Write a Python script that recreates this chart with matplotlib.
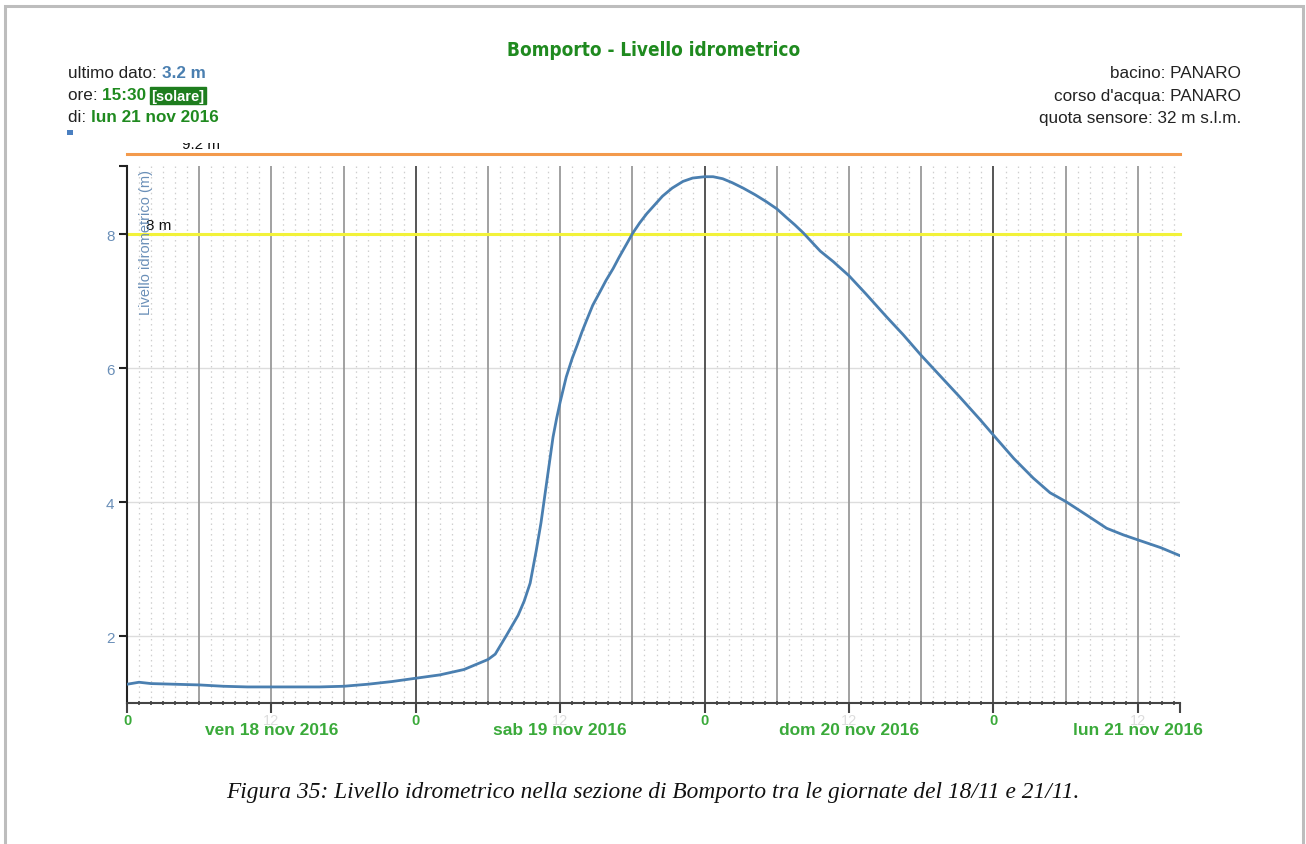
import matplotlib.pyplot as plt
from matplotlib.patches import Rectangle
from matplotlib.transforms import Bbox, TransformedBbox

# hours from 18 nov 2016 00:00 (solar time) and water level in metres
hours = [0, 1, 2, 4, 6, 8, 10, 12, 14, 16, 18, 20, 22, 24, 26, 28, 30, 30.6,
         31.5, 32.5, 33.0, 33.5, 34, 34.4, 34.9, 35.4, 35.7, 36, 36.5, 37.0,
         37.4, 37.8, 38.2, 38.7, 39.3, 39.8, 40.4, 40.9, 41.5, 42, 42.6, 43.2,
         43.9, 44.5, 45.3, 46.2, 47.0, 48, 48.7, 49.5, 50.3, 51.2, 52.2, 53.1,
         54.0, 54.8, 55.5, 56.2, 57.6, 58.7, 60, 61.4, 63.1, 64.5, 66, 67.6,
         69.2, 70.9, 72, 73.7, 75.3, 76.7, 78, 79.8, 81.4, 82.8, 84.1, 85.9, 87.5]
level = [1.28, 1.31, 1.29, 1.28, 1.27, 1.25, 1.24, 1.24, 1.24, 1.24, 1.25,
         1.28, 1.32, 1.37, 1.42, 1.50, 1.65, 1.73, 2.00, 2.31, 2.52, 2.79,
         3.27, 3.69, 4.33, 4.97, 5.25, 5.50, 5.87, 6.15, 6.34, 6.54, 6.72,
         6.94, 7.14, 7.31, 7.49, 7.66, 7.85, 8.01, 8.17, 8.31, 8.45, 8.57,
         8.69, 8.79, 8.84, 8.86, 8.86, 8.83, 8.77, 8.69, 8.59, 8.49, 8.38,
         8.25, 8.14, 8.02, 7.75, 7.59, 7.38, 7.11, 6.77, 6.50, 6.19, 5.88,
         5.57, 5.23, 5.00, 4.65, 4.36, 4.14, 4.01, 3.80, 3.61, 3.51, 3.43,
         3.32, 3.20]

day_labels = ["ven 18 nov 2016", "sab 19 nov 2016", "dom 20 nov 2016", "lun 21 nov 2016"]
thresholds = [8.0, 9.2]
threshold_labels = ["8 m", "9.2 m"]
threshold_colors = ["#f2f23a", "#f39a4c"]

GREEN = "#3aaa3a"
DARKGREEN = "#1f8a1f"
BLUE = "#4a7fb0"

plt.rcParams['font.family'] = ['Liberation Sans', 'DejaVu Sans']

fig = plt.figure(figsize=(13.06, 8.45), dpi=100)
ax = fig.add_axes([127 / 1306, 1 - 704 / 845, (1180 - 127) / 1306, (704 - 167) / 845])

x_end = hours[-1]
ax.set_xlim(0, x_end)
ax.set_ylim(1.0, 9.02)

# grid: hourly dotted, 6-hourly solid, midnight darker
for h in range(0, 88):
    if h % 24 == 0:
        ax.axvline(h, color="#555555", lw=1.4, zorder=1)
    elif h % 6 == 0:
        ax.axvline(h, color="#9a9a9a", lw=1.3, zorder=1)
    else:
        ax.axvline(h, color="#cfcfcf", lw=0.9, ls=(0, (1.2, 3)), zorder=0)
for yv in [2, 4, 6, 8]:
    ax.axhline(yv, color="#dddddd", lw=1.0, zorder=0)

# alert thresholds
for val, lab, col in zip(thresholds, threshold_labels, threshold_colors):
    ax.plot([0, x_end], [val, val], color=col, lw=2.2, zorder=2, clip_on=False)
t8 = ax.text(1.6, thresholds[0] + 0.03, threshold_labels[0], fontsize=11,
             color="#111111", va="bottom", ha="left")
t92 = ax.text(4.6, thresholds[1] + 0.04, threshold_labels[1], fontsize=11,
              color="#111111", va="bottom", ha="left")
t92.set_clip_box(TransformedBbox(Bbox([[0, 0], [1, 1 - 144 / 845]]), fig.transFigure))
t92.set_clip_on(True)

ax.plot(hours, level, color=BLUE, lw=2.0, zorder=3, solid_capstyle="round",
        solid_joinstyle="round")

# axes styling
for s in ["top", "right"]:
    ax.spines[s].set_visible(False)
ax.spines["left"].set_color("#222222")
ax.spines["left"].set_linewidth(1.5)
ax.spines["bottom"].set_color("#444444")
ax.spines["bottom"].set_linewidth(1.5)

ax.set_yticks([2, 4, 6, 8, 9.02])
ax.set_yticklabels(["2", "4", "6", "8", ""], color="#6a8fb8", fontsize=11)
ax.tick_params(axis="y", length=6, width=1.5, color="#222222", pad=3)

ax.set_xticks([0, 12, 24, 36, 48, 60, 72, 84, x_end])
ax.set_xticklabels(["0", "12", "0", "12", "0", "12", "0", "12", ""], fontsize=10.5)
for i, tl in enumerate(ax.get_xticklabels()):
    tl.set_color(GREEN if i % 2 == 0 else "#dddddd")
    if i % 2 == 0:
        tl.set_fontweight("bold")
ax.set_xticks(range(0, 88), minor=True)
ax.tick_params(axis="x", which="major", length=7, width=1.5, color="#444444", pad=0)
ax.tick_params(axis="x", which="minor", length=3, width=1.2, color="#444444",
               direction="inout")

for i, lab in enumerate(day_labels):
    ax.text(12 + 24 * i, -0.035, lab, transform=ax.get_xaxis_transform(),
            ha="center", va="top", fontsize=12.5, fontweight="bold", color=GREEN)

ax.text(0.011, 0.995, "Livello idrometrico (m)", transform=ax.transAxes,
        rotation=90, ha="left", va="top", fontsize=10.5, color="#6a8fb8")

# title
fig.text(654 / 1306, 1 - 50 / 845, "Bomporto - Livello idrometrico", ha="center",
         va="center", fontsize=13.6, color=DARKGREEN, fontfamily="DejaVu Sans",
         fontstretch="condensed", fontweight="bold")

# header info, left side
hs = 12.3
t = fig.text(68 / 1306, 1 - 74 / 845, "ultimo dato: ", fontsize=hs, va="center", color="#222222")
ax.annotate("3.2 m", xy=(1, 0), xycoords=t, va="bottom", fontsize=hs,
            fontweight="bold", color=BLUE, annotation_clip=False)
t = fig.text(68 / 1306, 1 - 96 / 845, "ore: ", fontsize=hs, va="center", color="#222222")
t2 = ax.annotate("15:30 ", xy=(1, 0), xycoords=t, va="bottom", fontsize=hs,
                 fontweight="bold", color=DARKGREEN, annotation_clip=False)
ax.annotate("[solare]", xy=(1, 0), xycoords=t2, va="bottom", fontsize=10.5,
            fontweight="bold", color="white", annotation_clip=False,
            bbox=dict(facecolor="#1e7d1e", edgecolor="#1e7d1e", pad=0.8))
t = fig.text(68 / 1306, 1 - 118 / 845, "di: ", fontsize=hs, va="center", color="#222222")
ax.annotate("lun 21 nov 2016", xy=(1, 0), xycoords=t, va="bottom", fontsize=hs,
            fontweight="bold", color=DARKGREEN, annotation_clip=False)
fig.patches.append(Rectangle((67 / 1306, 1 - 136 / 845), 6 / 1306, 5 / 845,
                             transform=fig.transFigure, facecolor="#4a7fc0",
                             edgecolor="none"))

# header info, right side
for i, line in enumerate(["bacino: PANARO", "corso d'acqua: PANARO",
                          "quota sensore: 32 m s.l.m."]):
    fig.text(1241 / 1306, 1 - (74 + 22 * i) / 845, line, ha="right", va="center",
             fontsize=hs, color="#222222")

# caption
fig.text(653 / 1306, 1 - 793 / 845,
         "Figura 35: Livello idrometrico nella sezione di Bomporto tra le giornate del 18/11 e 21/11.",
         ha="center", va="center", fontsize=16.8, style="italic",
         fontfamily="Liberation Serif", color="#111111")

# page frame
fig.patches.append(Rectangle((5 / 1306, -0.01), 1298 / 1306, 1 - 7 / 845 + 0.01,
                             transform=fig.transFigure, fill=False,
                             edgecolor="#bdbdbd", lw=2.2))

fig.savefig("out.png", dpi=100)
